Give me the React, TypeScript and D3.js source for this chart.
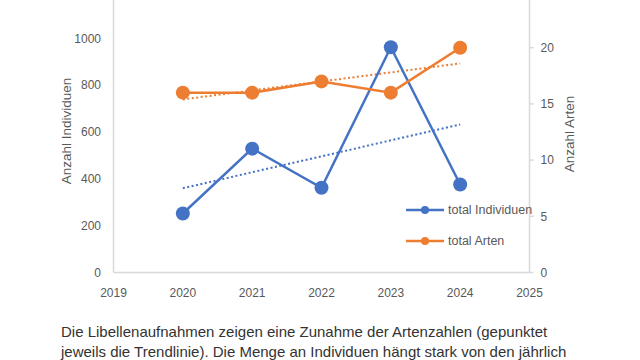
import React from "react";
import * as d3 from "d3";

const years = [2020, 2021, 2022, 2023, 2024];
const individuen = [252, 529, 362, 962, 376];
const arten = [16, 16, 17, 16, 20];
const xTicks = [2019, 2020, 2021, 2022, 2023, 2024, 2025];
const leftTicks = [0, 200, 400, 600, 800, 1000];
const rightTicks = [0, 5, 10, 15, 20];
const captionLines = [
  "Die Libellenaufnahmen zeigen eine Zunahme der Artenzahlen (gepunktet",
  "jeweils die Trendlinie). Die Menge an Individuen hängt stark von den jährlich",
];

const BLUE = "#4472c4";
const ORANGE = "#ed7d31";
const GRAY = "#595959";
const AXIS = "#d9d9d9";

function trend(xs: number[], ys: number[]) {
  const mx = d3.mean(xs)!;
  const my = d3.mean(ys)!;
  const num = d3.sum(xs.map((x, i) => (x - mx) * (ys[i] - my)));
  const den = d3.sum(xs.map((x) => (x - mx) * (x - mx)));
  const b = num / den;
  return (x: number) => my + b * (x - mx);
}

export default function App() {
  const W = 640, H = 360;
  const left = 113.5, right = 529.5, bottom = 272.5, top = -8.5;
  const x = d3.scaleLinear().domain([2019, 2025]).range([left, right]);
  const yL = d3.scaleLinear().domain([0, 1200]).range([bottom, top]);
  const yR = d3.scaleLinear().domain([0, 25]).range([bottom, top]);

  const lineL = d3.line<number>().x((_, i) => x(years[i])).y((d) => yL(d));
  const lineR = d3.line<number>().x((_, i) => x(years[i])).y((d) => yR(d));
  const tI = trend(years, individuen);
  const tA = trend(years, arten);
  const x0 = years[0], x1 = years[years.length - 1];

  const font = "'Liberation Sans', Arial, sans-serif";
  const legend = [
    { label: "total Individuen", color: BLUE, y: 210 },
    { label: "total Arten", color: ORANGE, y: 241 },
  ];

  return (
    <svg width={W} height={H} style={{ position: "absolute", left: 0, top: 0, background: "#fff" }} fontFamily={font}>
      {/* axes */}
      <line x1={left} x2={left} y1={0} y2={bottom} stroke={AXIS} strokeWidth={1.5} />
      <line x1={right} x2={right} y1={0} y2={bottom} stroke={AXIS} strokeWidth={1.5} />
      <line x1={left} x2={right} y1={bottom} y2={bottom} stroke={AXIS} strokeWidth={1.5} />
      {rightTicks.map((t) => (
        <g key={"r" + t}>
          <line x1={right} x2={right + 4} y1={yR(t)} y2={yR(t)} stroke={AXIS} strokeWidth={1.5} />
          <text x={right + 11} y={yR(t)} dy="0.35em" fontSize={12} fill={GRAY}>{t}</text>
        </g>
      ))}
      {leftTicks.map((t) => (
        <text key={"l" + t} x={101} y={yL(t)} dy="0.35em" textAnchor="end" fontSize={12} fill={GRAY}>{t}</text>
      ))}
      {xTicks.map((t) => (
        <text key={"x" + t} x={x(t)} y={293} dy="0.35em" textAnchor="middle" fontSize={12} fill={GRAY}>{t}</text>
      ))}
      <text transform={`translate(71,131) rotate(-90)`} textAnchor="middle" fontSize={13.5} fill={GRAY}>Anzahl Individuen</text>
      <text transform={`translate(574,134) rotate(-90)`} textAnchor="middle" fontSize={13.5} fill={GRAY}>Anzahl Arten</text>

      {/* trend lines */}
      <line x1={x(x0)} y1={yL(tI(x0))} x2={x(x1)} y2={yL(tI(x1))} stroke={BLUE} strokeWidth={2} strokeDasharray="2 2.5" />
      <line x1={x(x0)} y1={yR(tA(x0))} x2={x(x1)} y2={yR(tA(x1))} stroke={ORANGE} strokeWidth={2} strokeDasharray="2 2.5" />

      {/* series */}
      <path d={lineL(individuen)!} fill="none" stroke={BLUE} strokeWidth={2.5} />
      {individuen.map((v, i) => (
        <circle key={"i" + i} cx={x(years[i])} cy={yL(v)} r={7} fill={BLUE} />
      ))}
      <path d={lineR(arten)!} fill="none" stroke={ORANGE} strokeWidth={2.5} />
      {arten.map((v, i) => (
        <circle key={"a" + i} cx={x(years[i])} cy={yR(v)} r={7} fill={ORANGE} />
      ))}

      {/* legend */}
      {legend.map((l) => (
        <g key={l.label}>
          <line x1={406} x2={444} y1={l.y} y2={l.y} stroke={l.color} strokeWidth={2.5} />
          <circle cx={425} cy={l.y} r={4} fill={l.color} />
          <text x={448} y={l.y} dy="0.35em" fontSize={12.5} fill={GRAY}>{l.label}</text>
        </g>
      ))}

      {/* caption */}
      {captionLines.map((c, i) => (
        <text key={i} x={61} y={337 + i * 20} fontSize={15} fill="#333">{c}</text>
      ))}
    </svg>
  );
}
